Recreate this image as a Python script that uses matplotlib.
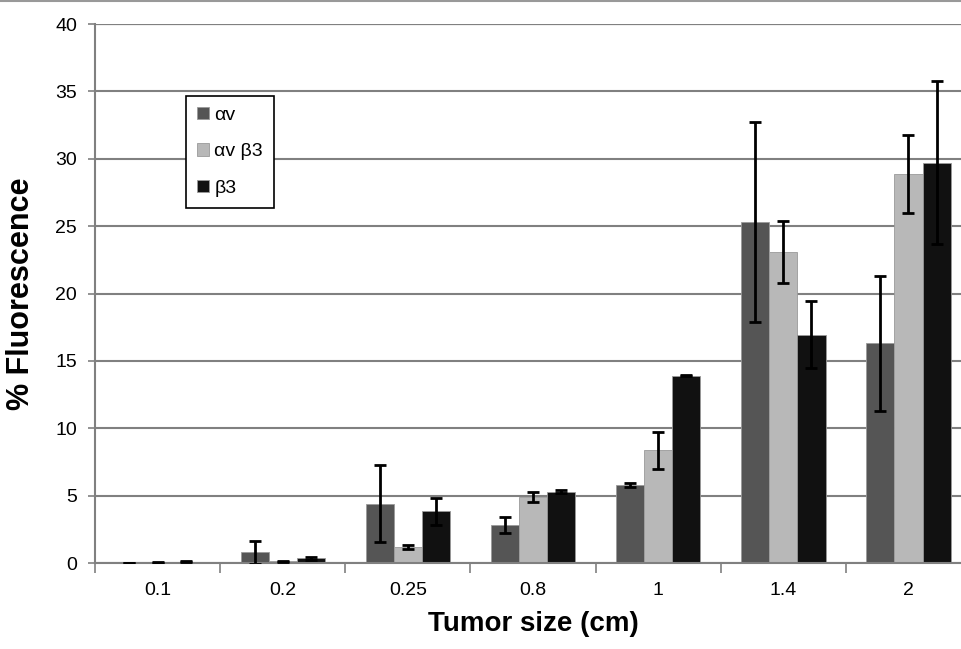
import numpy as np
import matplotlib
matplotlib.use("Agg")
import matplotlib.pyplot as plt

plt.rcParams['font.family'] = ['Liberation Sans', 'DejaVu Sans']

# data
sizes = ['0.1', '0.2', '0.25', '0.8', '1', '1.4', '2']
series = ['αv', 'αv β3', 'β3']
av = [0.0, 0.8, 4.4, 2.8, 5.8, 25.3, 16.3]
av_err = [0.0, 0.85, 2.85, 0.6, 0.15, 7.4, 5.0]
avb3 = [0.05, 0.12, 1.2, 4.9, 8.35, 23.1, 28.85]
avb3_err = [0.03, 0.05, 0.15, 0.4, 1.35, 2.3, 2.9]
b3 = [0.1, 0.35, 3.85, 5.3, 13.9, 16.95, 29.7]
b3_err = [0.05, 0.1, 1.0, 0.1, 0.05, 2.5, 6.05]
colors = ['#555555', '#b8b8b8', '#111111']

fig = plt.figure(figsize=(9.61, 6.49), dpi=100)
ax = fig.add_axes([0.0989, 0.1325, 0.9115, 0.8305])

x = np.arange(len(sizes))
w = 0.225
vals = [av, avb3, b3]
errs = [av_err, avb3_err, b3_err]
for i in range(3):
    ax.bar(x + (i - 1) * w, vals[i], w, color=colors[i], edgecolor='#9a9a9a',
           linewidth=0.6, label=series[i], zorder=2)
    ax.errorbar(x + (i - 1) * w, vals[i], yerr=errs[i], fmt='none',
                ecolor='black', elinewidth=2, capsize=4, capthick=2, zorder=3)

ax.set_xlim(-0.5, len(sizes) - 0.5)
ax.set_ylim(0, 40)
ax.set_yticks(range(0, 41, 5))
ax.yaxis.grid(True, color='#808080', linewidth=1.5, zorder=0)
ax.axhline(40, color='#333333', linewidth=1.5, zorder=1)

ax.set_xticks(x)
ax.set_xticklabels(sizes, fontsize=14)
ax.set_xticks(np.arange(-0.5, len(sizes)), minor=True)
ax.tick_params(axis='x', which='major', length=0, pad=14)
ax.tick_params(axis='x', which='minor', length=7, width=1.2, color='#808080')
ax.tick_params(axis='y', length=5, width=1.2, color='#808080', labelsize=14, pad=8)

for s in ['top', 'right']:
    ax.spines[s].set_visible(False)
ax.spines['left'].set_color('#808080')
ax.spines['left'].set_linewidth(1.5)
ax.spines['bottom'].set_color('#808080')
ax.spines['bottom'].set_linewidth(1.5)

ax.set_xlabel('Tumor size (cm)', fontsize=20, fontweight='bold', labelpad=8)
ax.set_ylabel('% Fluorescence', fontsize=22, fontweight='bold', labelpad=14)

leg = ax.legend(loc='upper left', bbox_to_anchor=(0.104, 0.866), borderaxespad=0,
                fontsize=14, handlelength=0.6, handleheight=0.6, handletextpad=0.3,
                labelspacing=1.0, borderpad=0.55, fancybox=False, framealpha=1)
leg.get_frame().set_edgecolor('black')
leg.get_frame().set_linewidth(1.2)

fig.add_artist(plt.Line2D([0, 1], [0.998, 0.998], color='#999999', linewidth=1.5))

fig.savefig('out.png', dpi=100)
